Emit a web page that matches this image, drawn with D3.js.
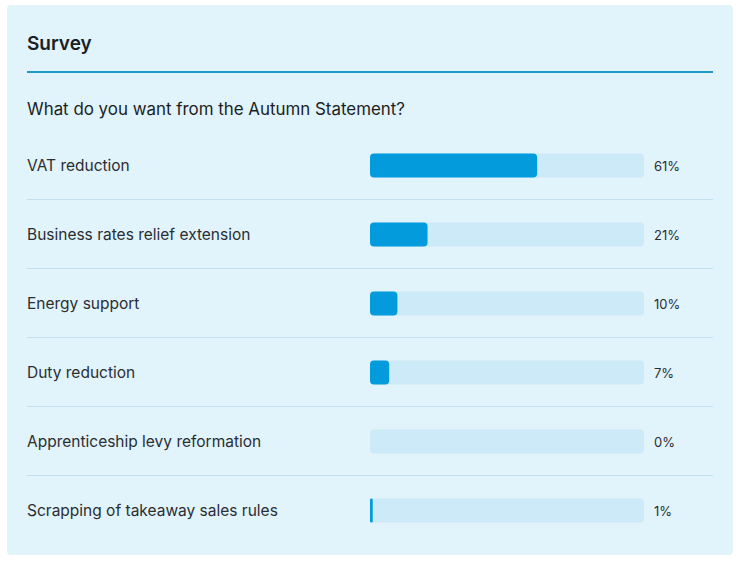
<!DOCTYPE html>
<html><head><meta charset="utf-8">
<script src="https://cdn.jsdelivr.net/npm/d3@7"></script>
<style>
html,body{margin:0;padding:0;background:#ffffff;}
svg{display:block;font-family:Inter,"Noto Sans",sans-serif;}
</style></head>
<body>
<svg id="chart" width="737" height="563"></svg>
<script>
const title = "Survey";
const question = "What do you want from the Autumn Statement?";
const categories = ["VAT reduction","Business rates relief extension","Energy support","Duty reduction","Apprenticeship levy reformation","Scrapping of takeaway sales rules"];
const values = [61,21,10,7,0,1];

const svg = d3.select("#chart");
svg.append("rect").attr("x",7).attr("y",5).attr("width",726).attr("height",550).attr("rx",4).attr("fill","#e1f3fb");
svg.append("text").attr("x",27).attr("y",50).attr("font-size",19).attr("font-weight",600).attr("fill","#1b1f24").text(title);
svg.append("rect").attr("x",27).attr("y",71).attr("width",686).attr("height",2).attr("fill","#1f9ac4");
svg.append("text").attr("x",27).attr("y",115).attr("font-size",16.9).attr("fill","#1b1f24").text(question);

const y = d3.scaleBand().domain(categories).range([131,545]).padding(0);
const x = d3.scaleLinear().domain([0,100]).range([370,644]);
const barH = 24;

const rows = svg.selectAll("g.row").data(categories).join("g").attr("class","row")
  .attr("transform",d=>`translate(0,${y(d)})`);
const bw = y.bandwidth();
rows.filter((d,i)=>i<categories.length-1).append("rect")
  .attr("x",27).attr("y",bw-1).attr("width",686).attr("height",1).attr("fill","#c2e1f0");
rows.append("text").attr("x",27).attr("y",bw/2+5.5).attr("font-size",15.5).attr("fill","#2a2e33").text(d=>d);
rows.append("rect").attr("x",x(0)).attr("y",bw/2-barH/2).attr("width",x(100)-x(0)).attr("height",barH)
  .attr("rx",4).attr("fill","#cdeaf8");
rows.each(function(d,i){
  const v = values[i];
  if(v<=0) return;
  const w = x(v)-x(0);
  d3.select(this).append("rect").attr("x",x(0)).attr("y",bw/2-barH/2).attr("width",w).attr("height",barH)
    .attr("rx",Math.min(4,w/2)).attr("fill","#039bdc");
});
rows.append("text").attr("x",654).attr("y",bw/2+5).attr("font-size",13).attr("fill","#2a2e33").text((d,i)=>values[i]+"%");
</script>
</body></html>
